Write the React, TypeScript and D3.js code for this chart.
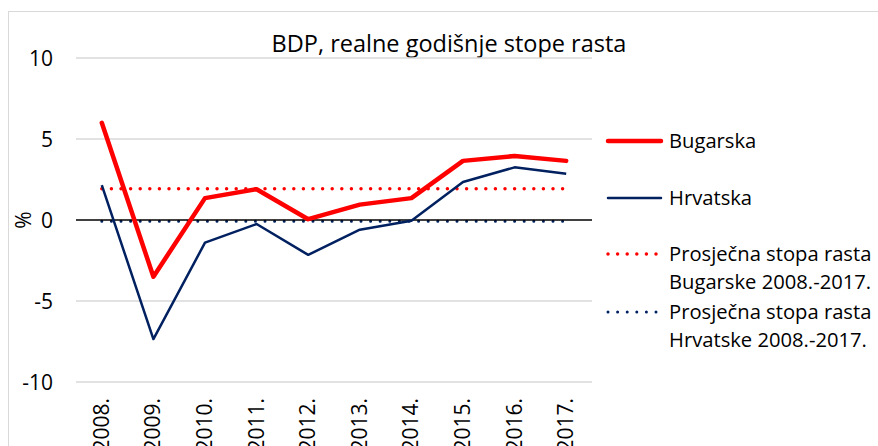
import React from "react";
import * as d3 from "d3";

const years = ["2008.", "2009.", "2010.", "2011.", "2012.", "2013.", "2014.", "2015.", "2016.", "2017."];
const bugarska = [6.0, -3.5, 1.35, 1.9, 0.05, 0.95, 1.35, 3.65, 3.95, 3.65];
const hrvatska = [2.15, -7.35, -1.4, -0.25, -2.15, -0.6, -0.05, 2.35, 3.25, 2.85];
const avgBugarska = 1.93;
const avgHrvatska = -0.08;
const yTicks = [10, 5, 0, -5, -10];
const title = "BDP, realne godišnje stope rasta";
const legendItems = [
  { lines: ["Bugarska"], color: "#FF0000", width: 4.5, dotted: false },
  { lines: ["Hrvatska"], color: "#002060", width: 2.5, dotted: false },
  { lines: ["Prosječna stopa rasta", "Bugarske 2008.-2017."], color: "#FF0000", width: 3.5, dotted: true },
  { lines: ["Prosječna stopa rasta", "Hrvatske 2008.-2017."], color: "#002060", width: 3, dotted: true },
];

const W = 878;
const H = 446;
const font = "'Open Sans', 'Noto Sans', sans-serif";

export default function App() {
  const x = d3.scaleBand<string>().domain(years).range([76, 592]);
  const y = d3.scaleLinear().domain([-10, 10]).range([382, 58]);
  const cx = (d: string) => (x(d) as number) + x.bandwidth() / 2;
  const line = d3
    .line<number>()
    .x((_, i) => cx(years[i]))
    .y((v) => y(v));
  const first = cx(years[0]);
  const last = cx(years[years.length - 1]);
  const legendY = [141, 198, 254, 312];

  return (
    <svg
      width={W}
      height={H}
      style={{ position: "absolute", left: 0, top: 0, background: "#fff" }}
      fontFamily={font}
    >
      <rect x={8.5} y={11.5} width={W + 10} height={H + 10} fill="#fff" stroke="#d9d9d9" strokeWidth={1} />
      <text x={449} y={52} textAnchor="middle" fontSize={23.5} fill="#000">
        {title}
      </text>
      {yTicks.map((t) => (
        <g key={t}>
          {t !== 0 && (
            <line x1={76} x2={592} y1={y(t)} y2={y(t)} stroke="#d9d9d9" strokeWidth={1.5} />
          )}
          <text x={53} y={y(t)} dy="0.36em" textAnchor="end" fontSize={21} fill="#000">
            {t}
          </text>
        </g>
      ))}
      <text
        transform={`translate(31,${y(0)}) rotate(-90)`}
        textAnchor="middle"
        fontSize={21}
        fill="#000"
      >
        %
      </text>
      {years.map((yr) => (
        <text
          key={yr}
          transform={`translate(${cx(yr) + 7},398) rotate(-90)`}
          textAnchor="end"
          fontSize={21}
          fill="#000"
        >
          {yr}
        </text>
      ))}
      <line
        x1={first}
        x2={last}
        y1={y(avgBugarska)}
        y2={y(avgBugarska)}
        stroke="#FF0000"
        strokeWidth={3.5}
        strokeLinecap="round"
        strokeDasharray="0 9.6"
      />
      <line
        x1={first}
        x2={last}
        y1={y(avgHrvatska)}
        y2={y(avgHrvatska)}
        stroke="#002060"
        strokeWidth={3}
        strokeLinecap="round"
        strokeDasharray="0 9.6"
      />
      <line x1={76} x2={592} y1={y(0)} y2={y(0)} stroke="#000" strokeWidth={1.3} />
      <path d={line(hrvatska) || ""} fill="none" stroke="#002060" strokeWidth={2.5} strokeLinejoin="round" />
      <path d={line(bugarska) || ""} fill="none" stroke="#FF0000" strokeWidth={4.5} strokeLinejoin="round" strokeLinecap="round" />
      {legendItems.map((it, i) => (
        <g key={i}>
          <line
            x1={608}
            x2={661}
            y1={legendY[i]}
            y2={legendY[i]}
            stroke={it.color}
            strokeWidth={it.width}
            strokeLinecap="round"
            strokeDasharray={it.dotted ? "0 9.6" : undefined}
          />
          {it.lines.map((l, j) => (
            <text key={j} x={669} y={legendY[i] + j * 27.5} dy="0.36em" fontSize={20.2} fill="#000">
              {l}
            </text>
          ))}
        </g>
      ))}
    </svg>
  );
}
